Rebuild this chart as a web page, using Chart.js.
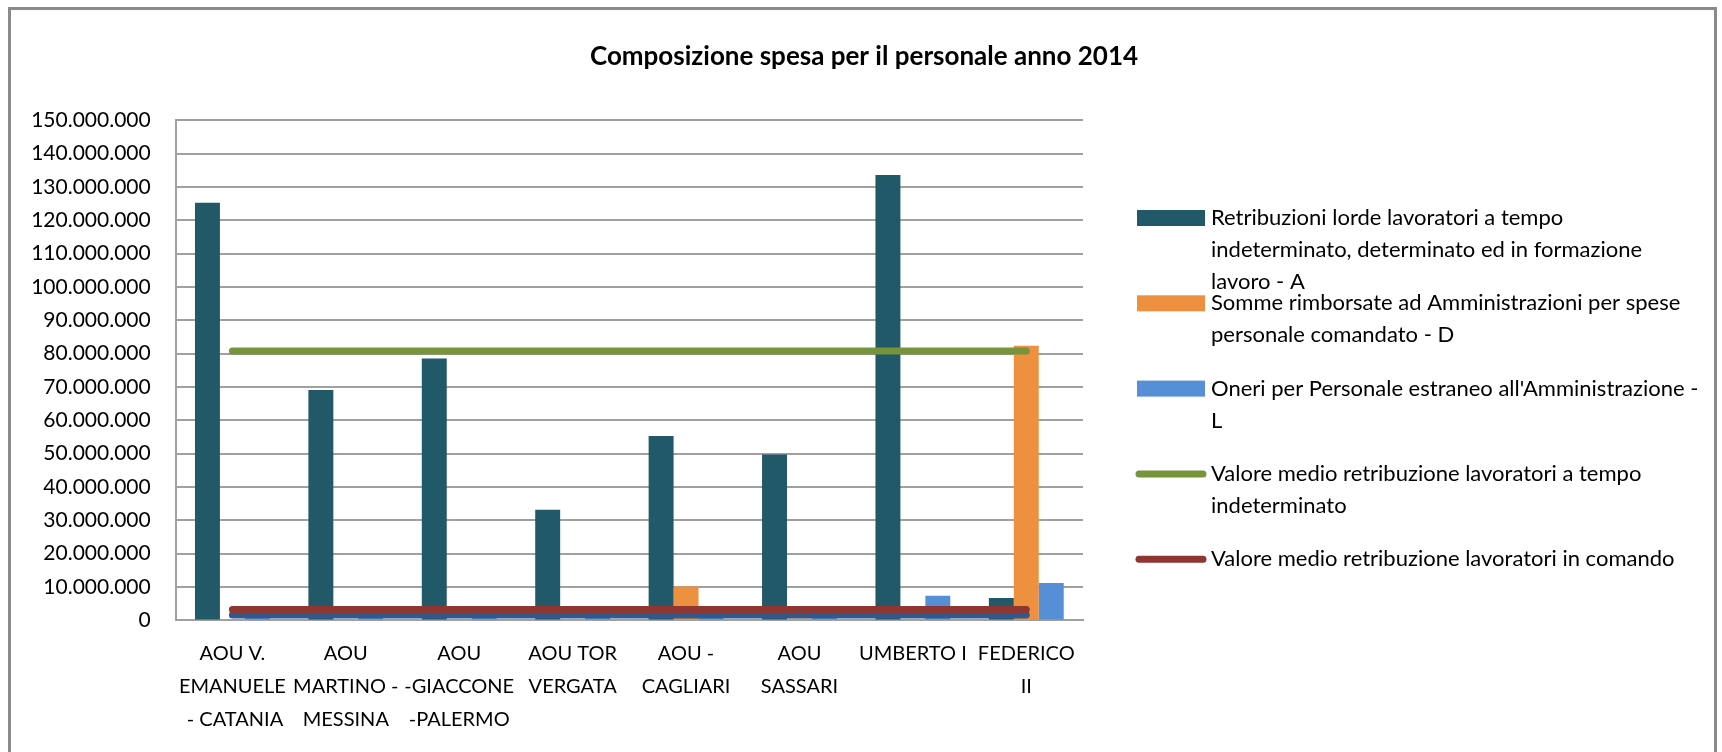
<!DOCTYPE html>
<html>
<head>
<meta charset="utf-8">
<script src="https://cdn.jsdelivr.net/npm/chart.js@4/dist/chart.umd.min.js"></script>
<style>
  html, body { margin: 0; padding: 0; background: #ffffff; }
  #wrap { position: relative; width: 1722px; height: 752px; }
  canvas { display: block; }
</style>
</head>
<body>
<div id="wrap"><canvas id="c" width="1722" height="752" style="width:1722px;height:752px"></canvas></div>
<script>
// ---------- DATA ----------
const chartTitle = "Composizione spesa per il personale anno 2014";

const categories = [
  ["AOU V.", "EMANUELE", " - CATANIA"],
  ["AOU", "MARTINO -", "MESSINA"],
  ["AOU", "-GIACCONE", "-PALERMO"],
  ["AOU TOR", "VERGATA"],
  ["AOU -", "CAGLIARI"],
  ["AOU", "SASSARI"],
  ["UMBERTO I"],
  ["FEDERICO", "II"]
];

const retribuzioniA = [125300000, 69100000, 78600000, 33200000, 55300000, 49800000, 133600000, 6700000];
const rimborsiD     = [400000, 0, 400000, 400000, 10200000, 600000, 0, 82400000];
const oneriL        = [700000, 700000, 700000, 700000, 700000, 700000, 7400000, 11200000];

const mediaIndeterminato = [80800000, 80800000, 80800000, 80800000, 80800000, 80800000, 80800000, 80800000];
const mediaComando       = [3300000, 3300000, 3300000, 3300000, 3300000, 3300000, 3300000, 3300000];
const mediaEstranei      = [1600000, 1600000, 1600000, 1600000, 1600000, 1600000, 1600000, 1600000];

const yTicks = [0, 10000000, 20000000, 30000000, 40000000, 50000000, 60000000, 70000000,
                80000000, 90000000, 100000000, 110000000, 120000000, 130000000, 140000000, 150000000];

const legendLines = [
  ["Retribuzioni lorde lavoratori a tempo", "indeterminato, determinato ed in formazione", "lavoro - A"],
  ["Somme rimborsate ad Amministrazioni per spese", "personale comandato - D"],
  ["Oneri per Personale estraneo all'Amministrazione -", "L"],
  ["Valore medio retribuzione lavoratori a tempo", "indeterminato"],
  ["Valore medio retribuzione lavoratori in comando"]
];

// ---------- STYLE ----------
const FONT = "Lato, 'Open Sans', 'DejaVu Sans', sans-serif";
const colTeal = "#215968", colOrange = "#ED9140", colBlue = "#5590D6";
const colGreen = "#77933C", colRed = "#8F3633", colDarkBlue = "#33598C";
const gridCol = "#a0a0a0";

function fmt(v) {
  return Math.round(v).toString().replace(/\B(?=(\d{3})+(?!\d))/g, ".");
}

const frame = {
  id: "frame",
  beforeDraw(chart) {
    const ctx = chart.ctx;
    ctx.save();
    ctx.fillStyle = "#ffffff";
    ctx.fillRect(0, 0, chart.width, chart.height);
    ctx.strokeStyle = "#8a8a8a";
    ctx.lineWidth = 3;
    ctx.strokeRect(9.5, 8.5, 1706, 800);
    ctx.restore();
  },
  afterDraw(chart) {
    const ctx = chart.ctx;
    ctx.save();
    ctx.fillStyle = "#000000";
    ctx.font = "bold 26px " + FONT;
    ctx.textAlign = "center";
    ctx.textBaseline = "middle";
    ctx.fillText(chartTitle, 864, 57);
    ctx.restore();
  }
};

const sideLegend = {
  id: "sideLegend",
  afterDraw(chart) {
    const ctx = chart.ctx;
    const x0 = chart.chartArea.right + 54;
    const textX = x0 + 74;
    const y0 = 218, step = 85.3, lineH = 32;
    const shown = chart.data.datasets.filter(d => d.legendIndex !== undefined);
    ctx.save();
    shown.forEach(ds => {
      const i = ds.legendIndex;
      const y = y0 + i * step;
      if (ds.type === "line") {
        ctx.strokeStyle = ds.borderColor;
        ctx.lineWidth = 7;
        ctx.lineCap = "round";
        ctx.beginPath();
        ctx.moveTo(x0 + 2, y);
        ctx.lineTo(x0 + 66, y);
        ctx.stroke();
      } else {
        ctx.fillStyle = ds.backgroundColor;
        ctx.fillRect(x0, y - 8, 68, 16);
      }
      ctx.fillStyle = "#000000";
      ctx.font = "22px " + FONT;
      ctx.textBaseline = "middle";
      ctx.textAlign = "left";
      legendLines[i].forEach((ln, j) => ctx.fillText(ln, textX, y + j * lineH));
    });
    ctx.restore();
  }
};

const barCommon = { categoryPercentage: 0.66, barPercentage: 1.0, order: 5, borderWidth: 0 };
const lineCommon = { type: "line", pointRadius: 0, pointHoverRadius: 0, borderWidth: 7,
                     borderCapStyle: "round", fill: false, tension: 0 };

new Chart(document.getElementById("c"), {
  type: "bar",
  data: {
    labels: categories,
    datasets: [
      Object.assign({ label: legendLines[0].join(" "), data: retribuzioniA, backgroundColor: colTeal, legendIndex: 0 }, barCommon),
      Object.assign({ label: legendLines[1].join(" "), data: rimborsiD, backgroundColor: colOrange, legendIndex: 1 }, barCommon),
      Object.assign({ label: legendLines[2].join(" "), data: oneriL, backgroundColor: colBlue, legendIndex: 2 }, barCommon),
      Object.assign({ label: legendLines[3].join(" "), data: mediaIndeterminato, borderColor: colGreen, backgroundColor: colGreen, legendIndex: 3, order: 0 }, lineCommon),
      Object.assign({ label: legendLines[4].join(" "), data: mediaComando, borderColor: colRed, backgroundColor: colRed, legendIndex: 4, order: 0 }, lineCommon),
      Object.assign({ label: "Valore medio oneri personale estraneo", data: mediaEstranei, borderColor: colDarkBlue, backgroundColor: colDarkBlue, order: 1, borderWidth: 6 }, lineCommon)
    ]
  },
  options: {
    responsive: false,
    animation: false,
    devicePixelRatio: 1,
    layout: { padding: { left: 0, right: 639, top: 120.4, bottom: 15.6 } },
    plugins: {
      legend: { display: false },
      tooltip: { enabled: false },
      title: { display: false }
    },
    scales: {
      x: {
        offset: true,
        grid: { display: false, drawTicks: false },
        border: { display: true, color: gridCol, width: 2 },
        ticks: {
          color: "#000000",
          font: { family: FONT, size: 20, lineHeight: 1.65 },
          padding: 17,
          maxRotation: 0, minRotation: 0, autoSkip: false
        },
        afterFit: s => { s.height = 116; }
      },
      y: {
        min: 0, max: 150000000,
        grid: { color: gridCol, lineWidth: 2, drawTicks: false },
        border: { display: true, color: gridCol, width: 2 },
        ticks: {
          color: "#000000",
          font: { family: FONT, size: 21 },
          padding: 25,
          callback: v => fmt(v)
        },
        afterBuildTicks: s => { s.ticks = yTicks.map(v => ({ value: v })); },
        afterFit: s => { s.width = 175.7; }
      }
    }
  },
  plugins: [frame, sideLegend]
});
</script>
</body>
</html>
